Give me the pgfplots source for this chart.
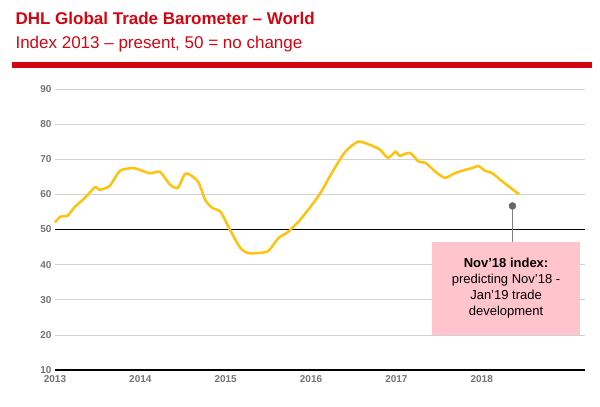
\documentclass[border=0pt]{standalone}
\usepackage{pgfplots}
\pgfplotsset{compat=1.18}
\usepackage{fontspec}
\setmainfont{Liberation Sans}
\definecolor{dhlred}{HTML}{D40511}
\definecolor{dhlyel}{HTML}{FFC20E}
\definecolor{boxpink}{HTML}{FFC4CC}
\begin{document}
\begin{tikzpicture}[x=1pt,y=1pt]
\useasboundingbox (0,0) rectangle (600,407);
\node[anchor=west,text=dhlred,font=\bfseries\fontsize{17}{20}\selectfont] at (12,389) {DHL Global Trade Barometer – World};
\node[anchor=west,text=dhlred,font=\fontsize{17}{20}\selectfont] at (12,363) {Index 2013 – present, 50 = no change};
\fill[dhlred] (12,339) rectangle (592,345);
\begin{axis}[at={(55pt,37pt)},anchor=south west,scale only axis,width=530pt,height=281pt,
  xmin=2013,xmax=2019.21,ymin=10,ymax=90,
  xtick={2013,2014,2015,2016,2017,2018},
  xticklabels={2013,2014,2015,2016,2017,2018},
  ytick={10,20,...,90},
  axis line style={draw=none}, major tick length=0pt,
  ymajorgrids, grid style={gray!35,line width=0.6pt},
  tick label style={text=gray!90!black,font=\fontsize{10}{12}\selectfont\bfseries},
  xticklabel style={yshift=-2pt},
  /pgf/number format/assume math mode=true,
  clip=false]
\draw[black,line width=1.4pt] (axis cs:2013,50) -- (axis cs:2019.21,50);
\draw[black,line width=1.4pt] (axis cs:2013,10) -- (axis cs:2019.21,10);
\addplot[dhlyel,line width=2.5pt,smooth,tension=0.4] coordinates {
(2013.00,52.0)(2013.06,53.6)(2013.15,54.0)(2013.23,56.4)(2013.35,59.0)(2013.47,62.1)
(2013.52,61.3)(2013.64,62.4)(2013.76,66.7)(2013.91,67.5)(2013.99,67.0)(2014.11,66.0)
(2014.23,66.4)(2014.35,62.7)(2014.44,61.9)(2014.52,65.8)(2014.58,65.6)(2014.68,63.5)
(2014.76,58.4)(2014.84,56.2)(2014.94,55.0)(2015.05,49.9)(2015.17,44.8)(2015.26,43.3)
(2015.38,43.3)(2015.50,43.9)(2015.62,47.6)(2015.73,49.3)(2015.87,52.7)(2016.01,57.0)
(2016.11,60.4)(2016.25,66.4)(2016.40,72.1)(2016.55,75.0)(2016.69,74.1)(2016.81,72.7)
(2016.90,70.4)(2016.99,72.1)(2017.04,71.0)(2017.16,71.8)(2017.26,69.3)(2017.34,69.0)
(2017.46,66.4)(2017.57,64.7)(2017.69,66.1)(2017.81,67.0)(2017.89,67.5)(2017.96,68.1)
(2018.04,66.7)(2018.12,66.1)(2018.22,64.1)(2018.31,62.4)(2018.40,60.7)(2018.44,60.1)};
\draw[gray,line width=1pt] (axis cs:2018.36,56.7) -- (axis cs:2018.36,46.5);
\addplot[only marks,mark=*,mark size=3.5pt,gray!80!black] coordinates {(2018.36,56.7)};
\fill[boxpink] (axis cs:2017.42,46.5) rectangle (axis cs:2019.15,20.0);
\node[align=center,font=\fontsize{13}{16}\selectfont] at (axis cs:2018.285,33.3)
 {\textbf{Nov’18 index:}\\predicting Nov’18 -\\Jan’19 trade\\development};
\end{axis}
\end{tikzpicture}
\end{document}
